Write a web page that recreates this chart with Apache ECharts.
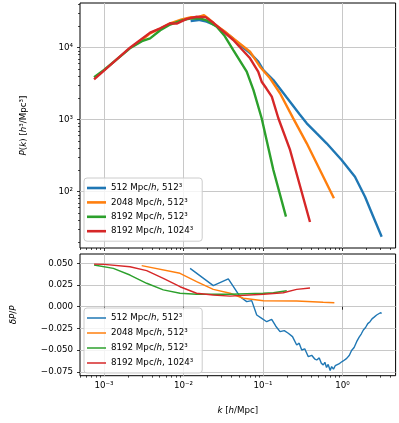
<!DOCTYPE html>
<html>
<head>
<meta charset="utf-8">
<script src="https://cdn.jsdelivr.net/npm/echarts@6/dist/echarts.min.js"></script>
<style>
html, body {margin: 0; padding: 0; background: #fff;}
#main {width: 399px; height: 423px;}
</style>
</head>
<body>
<div id="main"></div>
<script>
var names = ['512 Mpc/h, 512³', '2048 Mpc/h, 512³', '8192 Mpc/h, 512³', '8192 Mpc/h, 1024³'];
var colors = ['#1f77b4', '#ff7f0e', '#2ca02c', '#d62728'];

// P(k): [k, P]
var pk512 = [[0.0123, 23500], [0.0155, 24300], [0.0195, 23000], [0.0249, 20600], [0.033, 16500],
    [0.0423, 13300], [0.055, 10300], [0.0687, 8400], [0.0873, 6400], [0.101, 4900], [0.135, 3560],
    [0.199, 2030], [0.29, 1180], [0.355, 891], [0.474, 645], [0.631, 470], [0.975, 275], [1.435, 161],
    [1.92, 85], [2.44, 45], [3.11, 23.7]];
var pk2048 = [[0.003, 12800], [0.0038, 15800], [0.0051, 18500], [0.0068, 21800], [0.0095, 24800],
    [0.0125, 26500], [0.0155, 26800], [0.0181, 28400], [0.0205, 25500], [0.0249, 21000], [0.033, 16800],
    [0.0423, 13500], [0.0687, 8800], [0.0916, 5450], [0.1225, 3760], [0.1637, 2330], [0.24, 1045],
    [0.355, 470], [0.78, 81]];
var pk8192 = [[0.00075, 3890], [0.001, 4900], [0.00212, 9800], [0.003, 12300], [0.0038, 13500],
    [0.0051, 17500], [0.0068, 21000], [0.0095, 24000], [0.0125, 25500], [0.016, 25500], [0.0195, 24000],
    [0.0262, 19500], [0.033, 14500], [0.0423, 9290], [0.0624, 4650], [0.0759, 2570], [0.0962, 1047],
    [0.135, 200], [0.1945, 45]];
var pk8192b = [[0.00075, 3640], [0.001, 4800], [0.00212, 10000], [0.0038, 16200], [0.0051, 18600],
    [0.0068, 21900], [0.0082, 21600], [0.011, 25100], [0.0147, 26900], [0.019, 26600], [0.024, 22000],
    [0.0423, 12800], [0.0687, 7130], [0.087, 4650], [0.0962, 3370], [0.110, 2730], [0.129, 2090],
    [0.156, 1047], [0.219, 380], [0.39, 38]];

// dP/P: [k, value]
var dp512 = [[0.0121, 0.0442], [0.0237, 0.0242], [0.0366, 0.0320], [0.0514, 0.0115], [0.0624, 0.0058],
    [0.0721, 0.0070], [0.0834, -0.0096], [0.0964, -0.0134], [0.1114, -0.0173], [0.1286, -0.0145],
    [0.145, -0.0225], [0.1637, -0.0288], [0.185, -0.0275], [0.208, -0.0306], [0.235, -0.0345],
    [0.2655, -0.0441], [0.285, -0.0420], [0.307, -0.0499], [0.335, -0.0485], [0.3715, -0.0576],
    [0.41, -0.0560], [0.445, -0.0600], [0.474, -0.0614], [0.51, -0.0590], [0.54, -0.0650],
    [0.573, -0.0672], [0.60, -0.0640], [0.63, -0.0700], [0.66, -0.0665], [0.70, -0.0735],
    [0.73, -0.0690], [0.77, -0.0720], [0.81, -0.0680], [0.845, -0.0672], [0.90, -0.0660],
    [0.96, -0.0640], [1.02, -0.0625], [1.13, -0.0595], [1.22, -0.0560], [1.30, -0.0505],
    [1.40, -0.0470], [1.507, -0.0403], [1.62, -0.0350], [1.72, -0.0315], [1.83, -0.0268],
    [1.95, -0.0240], [2.08, -0.0195], [2.22, -0.0173], [2.35, -0.0140], [2.50, -0.0120],
    [2.69, -0.0096], [2.85, -0.0105], [3.00, -0.0070], [3.11, -0.0076]];
var dp2048 = [[0.00298, 0.0473], [0.00904, 0.0385], [0.0146, 0.0288], [0.0237, 0.0200], [0.0385, 0.0155],
    [0.0566, 0.0097], [0.101, 0.0069], [0.265, 0.0066], [0.571, 0.0051], [0.79, 0.0046]];
var dp8192 = [[0.00075, 0.0480], [0.00131, 0.0442], [0.00212, 0.0365], [0.00344, 0.0270], [0.00557, 0.0193],
    [0.00904, 0.0155], [0.0146, 0.0143], [0.0385, 0.0143], [0.101, 0.0155], [0.135, 0.0160], [0.199, 0.0184]];
var dp8192b = [[0.00075, 0.0490], [0.001, 0.0488], [0.00212, 0.0460], [0.00344, 0.0415], [0.00557, 0.0327],
    [0.00904, 0.0230], [0.0146, 0.0155], [0.0237, 0.0135], [0.0385, 0.0122], [0.101, 0.0143],
    [0.18, 0.0161], [0.265, 0.0200], [0.39, 0.0215]];

var xMajor = [0.001, 0.01, 0.1, 1];
var yMajorTop = [100, 1000, 10000];
var yTicksBot = [-0.075, -0.05, -0.025, 0, 0.025, 0.05];

var xMinor = [];
[0.0001, 0.001, 0.01, 0.1, 1].forEach(function (d) {
    for (var m = 2; m <= 9; m++) xMinor.push(m * d);
});
var yMinorTop = [];
[10, 100, 1000, 10000].forEach(function (d) {
    for (var m = 2; m <= 9; m++) yMinorTop.push(m * d);
});

var font = 'DejaVu Sans';
var fs = 8.7;
var sup = {'0': '⁰', '1': '¹', '2': '²', '3': '³', '4': '⁴', '-': '⁻'};
function pow10Label(v) {
    var e = String(Math.round(Math.log10(v)));
    return '10' + e.split('').map(function (c) { return sup[c]; }).join('');
}

var xMin = Math.pow(10, -3.302), xMax = Math.pow(10, 0.668);

function majorX(grid, showLabel) {
    return {
        type: 'log', gridIndex: grid, min: xMin, max: xMax, position: 'bottom',
        axisLine: {show: false},
        axisTick: {show: true, length: 3, inside: false, customValues: xMajor, lineStyle: {color: '#000', width: 0.8}},
        axisLabel: {show: showLabel, customValues: xMajor, formatter: pow10Label, margin: 6,
            color: '#000', fontFamily: font, fontSize: fs},
        splitLine: {show: true, lineStyle: {color: '#c8c8c8', width: 1}},
        minorTick: {show: false}
    };
}
function minorX(grid) {
    return {
        type: 'log', gridIndex: grid, min: xMin, max: xMax, position: 'bottom',
        axisLine: {show: false},
        axisTick: {show: true, length: 2, customValues: xMinor, lineStyle: {color: '#000', width: 0.7}},
        axisLabel: {show: false},
        splitLine: {show: false}
    };
}

var rich = {i: {fontStyle: 'italic', fontFamily: font, fontSize: fs, color: '#000'}};

function legendFor(top, ih, gap) {
    return {
        data: names, orient: 'vertical', left: 84, top: top, icon: 'rect',
        itemWidth: 19, itemHeight: ih, itemGap: gap, selectedMode: false,
        padding: [5, 9, 5, 3],
        backgroundColor: 'rgba(255,255,255,0.8)', borderColor: '#cccccc', borderWidth: 1, borderRadius: 3,
        textStyle: {fontFamily: font, fontSize: fs, color: '#000', lineHeight: 10, rich: rich},
        formatter: function (n) { return n.replace('Mpc/h', 'Mpc/{i|h}'); }
    };
}

var chart = echarts.init(document.getElementById('main'));
var series = [];
[pk512, pk2048, pk8192, pk8192b].forEach(function (d, i) {
    series.push({name: names[i], type: 'line', xAxisIndex: 0, yAxisIndex: 0, data: d,
        showSymbol: false, symbol: 'none', color: colors[i], lineStyle: {width: 2.4}});
});
[dp512, dp2048, dp8192, dp8192b].forEach(function (d, i) {
    series.push({name: names[i], type: 'line', xAxisIndex: 2, yAxisIndex: 2, data: d,
        showSymbol: false, symbol: 'none', color: colors[i], lineStyle: {width: 1.4}});
});

chart.setOption({
    animation: false,
    backgroundColor: '#fff',
    grid: [
        {left: 80, top: 3, width: 315.6, height: 245, show: true, borderColor: '#000', borderWidth: 1},
        {left: 80, top: 254, width: 315.6, height: 121.7, show: true, borderColor: '#000', borderWidth: 1}
    ],
    legend: [legendFor(178, 2.6, 4.4), legendFor(308, 1.5, 5)],
    xAxis: [
        majorX(0, false),
        minorX(0),
        Object.assign(majorX(1, true), {
            name: '{i|k} [{i|h}/Mpc]', nameLocation: 'middle', nameGap: 31,
            nameTextStyle: {fontFamily: font, fontSize: fs, color: '#000', rich: rich}
        }),
        minorX(1)
    ],
    yAxis: [
        {
            type: 'log', gridIndex: 0, min: Math.pow(10, 1.218), max: Math.pow(10, 4.621), position: 'left',
            axisLine: {show: false},
            axisTick: {show: true, length: 3, customValues: yMajorTop, lineStyle: {color: '#000', width: 0.8}},
            axisLabel: {customValues: yMajorTop, formatter: pow10Label, margin: 7,
                color: '#000', fontFamily: font, fontSize: fs},
            splitLine: {show: true, lineStyle: {color: '#c8c8c8', width: 1}},
            name: '{i|P}({i|k}) [{i|h}³/Mpc³]', nameLocation: 'middle', nameGap: 52, nameRotate: 90,
            nameTextStyle: {fontFamily: font, fontSize: fs, color: '#000', rich: rich}
        },
        {
            type: 'log', gridIndex: 0, min: Math.pow(10, 1.218), max: Math.pow(10, 4.621), position: 'left',
            axisLine: {show: false},
            axisTick: {show: true, length: 2, customValues: yMinorTop, lineStyle: {color: '#000', width: 0.7}},
            axisLabel: {show: false},
            splitLine: {show: false}
        },
        {
            type: 'value', gridIndex: 1, min: -0.0795, max: 0.0607, position: 'left',
            axisLine: {show: false},
            axisTick: {show: true, length: 3, customValues: yTicksBot, lineStyle: {color: '#000', width: 0.8}},
            axisLabel: {customValues: yTicksBot, margin: 7, color: '#000', fontFamily: font, fontSize: fs,
                formatter: function (v) { return v.toFixed(3).replace('-', '−'); }},
            splitLine: {show: true, lineStyle: {color: '#c8c8c8', width: 1}},
            name: '{i|δP}/{i|P}', nameLocation: 'middle', nameGap: 62, nameRotate: 90,
            nameTextStyle: {fontFamily: font, fontSize: fs, color: '#000', rich: rich}
        }
    ],
    series: series
});
</script>
</body>
</html>
